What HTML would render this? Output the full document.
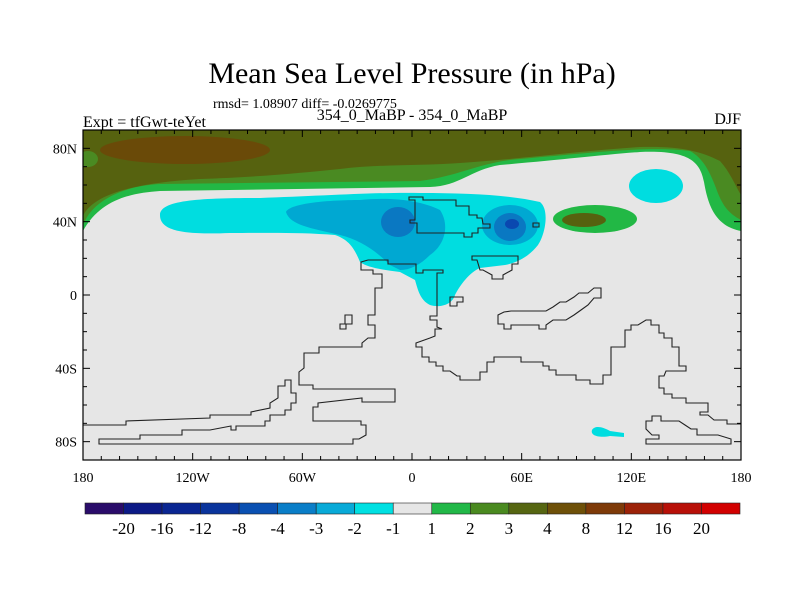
<!DOCTYPE html>
<html><head><meta charset="utf-8"><style>
html,body{margin:0;padding:0;background:#fff;}
svg{display:block;font-family:"Liberation Serif",serif;}
</style></head><body>
<svg id="chart" width="800" height="600" viewBox="0 0 800 600">
<text x="412" y="83" font-size="30" text-anchor="middle">Mean Sea Level Pressure (in hPa)</text>
<text x="213" y="108" font-size="14">rmsd= 1.08907 diff= -0.0269775</text>
<text x="412" y="120" font-size="16" text-anchor="middle">354_0_MaBP - 354_0_MaBP</text>
<text x="83" y="127" font-size="16">Expt = tfGwt-teYet</text>
<text x="741" y="124" font-size="16" text-anchor="end">DJF</text>
<defs><clipPath id="pc"><rect x="83" y="130" width="658" height="330"/></clipPath></defs>
<g clip-path="url(#pc)">
<rect x="83" y="130" width="658" height="330" fill="#e6e6e6"/>
<path fill="#22b845" d="M83,231 C100,200 130,193 160,191 L430,187 C460,186 470,170 500,165 C560,160 600,155 640,152 C690,150 700,162 704,182 C708,205 715,226 741,231 L741,130 L83,130 Z"/>
<path fill="#4a8a22" d="M83,226 C90,203 120,186 160,184 L420,181 C460,176 480,162 520,159 C600,152 650,146 690,151 C703,158 710,172 716,188 C722,205 728,213 741,220 L741,130 L83,130 Z"/>
<path fill="#56620f" d="M83,216 C92,196 130,183 200,179 C260,177 300,173 340,169 C380,164 420,166 460,163 C520,159 580,151 640,147 C680,146 700,151 720,161 C730,172 735,185 741,195 L741,130 L83,130 Z"/>
<ellipse cx="88" cy="159" rx="10" ry="8" fill="#4a8a22"/>
<ellipse cx="185" cy="150" rx="85" ry="14" fill="#6a4a08"/>
<path fill="#00dde0" d="M160,215 C160,200 200,198 260,198 C320,196 380,192 420,193 C470,193 510,195 540,202 C550,210 545,235 538,245 C530,255 520,262 505,265 L480,268 C470,272 460,285 455,295 C452,305 440,308 430,305 C420,300 418,290 415,280 L400,272 C385,270 368,268 360,262 C355,250 350,240 335,235 C300,232 260,233 230,233 C180,235 160,230 160,215 Z"/>
<path fill="#00a8d2" d="M286,212 C290,203 330,200 360,200 C390,197 420,200 440,210 C450,225 445,245 430,255 C420,265 410,270 400,270 L390,265 C375,250 360,240 340,235 C310,228 290,225 286,212 Z"/>
<ellipse cx="510" cy="225" rx="28" ry="20" fill="#00a8d2"/>
<ellipse cx="398" cy="222" rx="17" ry="15" fill="#0a78c2"/>
<ellipse cx="510" cy="227" rx="16" ry="14" fill="#0a78c2"/>
<ellipse cx="512" cy="224" rx="7" ry="5" fill="#0a48b0"/>
<ellipse cx="656" cy="186" rx="27" ry="17" fill="#00dde0"/>
<ellipse cx="595" cy="219" rx="42" ry="14" fill="#22b845"/>
<ellipse cx="584" cy="220" rx="22" ry="7" fill="#56620f"/>
<path fill="#00dde0" d="M592,430 C595,425 603,427 610,431 L624,433 L624,437 L610,436 C600,438 590,436 592,430 Z"/>
<g fill="none" stroke="#222" stroke-width="1.1">
<path d="M409,197 L423,197 L423,200 L456,200 L456,206 L469,206 L469,215 L477,215 L477,218 L482,218 L483,224 L490,224 L490,228 L478,228 L478,233 L472,233 L472,237 L464,237 L464,233 L417,233 L417,223 L410,223 L410,220 L415,220 L415,200 L409,200 Z M533,223 L539,223 L539,227 L533,227 Z"/>
<path d="M368,260 L388,260 L388,264 L416,264 L416,273 L423,273 L423,270 L443,270 L443,273 L437,273 L437,316 L430,316 L430,320 L437,320 L437,327 L442,329 L435,329 L435,336 L430,338 L416,343 L416,347 L422,347 L422,357 L429,357 L429,362 L436,362 L436,366 L443,366 L443,371 L450,371 L457,376 L460,376 L460,380 L480,380 L480,372 L487,372 L487,362 L494,362 L494,357 L521,357 L521,362 L543,362 L543,366 L549,366 L549,370 L556,370 L556,375 L576,375 L576,380 L590,380 L590,384 L603,384 L603,375 L611,375 L611,347 L625,347 L625,330 L631,330 L631,325 L638,325 L646,320 L651,320 L651,325 L659,325 L659,333 L664,333 L664,338 L672,338 L672,347 L679,347 L679,366 L686,366 L686,371 L666,371 L664,376 L659,376 L659,388 L664,388 L664,394 L672,394 L672,398 L686,398 L686,403 L708,403 L708,412 L700,412 L700,415 L708,415 L714,420 L727,420 L727,424 L741,424"/>
<path d="M368,260 L361,262 L361,270 L373,270 L373,274 L382,274 L382,288 L375,288 L375,315 L368,315 L368,325 L375,325 L375,338 L368,338 L362,343 L362,347 L319,347 L319,353 L304,353 L304,368 L299,372 L299,385 L313,385 L313,389 L395,389 L395,402 L362,402 L362,398 L318,403 L318,407 L313,407 L313,421 L361,421 L361,425 L366,425 L366,435 L359,439 L353,439 L353,444 L99,444 L99,439 L140,439 L140,435 L182,435 L182,430 L210,430 L231,426 L231,430 L236,430 L236,426 L265,426 L265,421 L270,421 L270,415 L285,415 L285,410 L291,410 L291,403 L296,403 L296,393 L291,393 L291,380 L285,380 L285,386 L278,386 L278,398 L270,403 L270,408 L251,412 L251,415 L210,415 L210,418 L126,421 L126,425 L83,425"/>
<path d="M340,329 L340,324 L345,324 L345,315 L352,315 L352,324 L346,324 L346,329 Z"/>
<path d="M472,256 L518,256 L518,264 L512,264 L512,270 L503,275 L503,279 L492,279 L492,275 L483,270 L480,270 L477,260 L472,260 Z"/>
<path d="M450,297 L463,297 L463,302 L457,302 L457,306 L450,306 Z"/>
<path d="M498,315 L498,324 L504,324 L504,329 L511,329 L511,325 L539,325 L539,329 L546,329 L546,325 L553,320 L566,320 L574,315 L581,310 L588,305 L594,298 L601,298 L601,288 L594,288 L588,293 L579,293 L574,297 L566,302 L560,302 L553,307 L546,311 L511,311 L504,312 Z"/>
<path d="M652,416 L661,416 L661,421 L679,421 L685,425 L691,429 L697,429 L697,435 L718,435 L731,439 L731,444 L646,444 L646,439 L659,439 L659,435 L652,435 L646,429 L646,421 L652,421 Z"/>
</g>
</g>
<g id="axes"></g>
<g id="cbar"></g>
<script>
const lonTicks = [-180, -120, -60, 0, 60, 120, 180];
const lonLabels = ["180", "120W", "60W", "0", "60E", "120E", "180"];
const latTicks = [80, 40, 0, -40, -80];
const latLabels = ["80N", "40N", "0", "40S", "80S"];
const levels = ["-20", "-16", "-12", "-8", "-4", "-3", "-2", "-1", "1", "2", "3", "4", "8", "12", "16", "20"];
const colors = ["#2a0c6a", "#0c1a86", "#0a2692", "#0a349c", "#0a50b2", "#0a7ec8", "#08aad8", "#00e0e2", "#e6e6e6", "#22b848", "#4a8a20", "#566612", "#6e5008", "#7e3a08", "#9c2208", "#b81008", "#d20000"];
const NS = "http://www.w3.org/2000/svg";
const X0 = 83, X1 = 741, Y0 = 130, Y1 = 460;
function xs(lon) { return X0 + (lon + 180) / 360 * (X1 - X0); }
function ys(lat) { return Y0 + (90 - lat) / 180 * (Y1 - Y0); }
function mk(tag, attrs, parent) { const e = document.createElementNS(NS, tag); for (const k in attrs) e.setAttribute(k, attrs[k]); parent.appendChild(e); return e; }
const ax = document.getElementById("axes");
const frame = mk("rect", {x: X0, y: Y0, width: X1 - X0, height: Y1 - Y0, fill: "none", stroke: "#000", "stroke-width": 1.2}, ax);


for (let lon = -180; lon <= 180; lon += 10) {
  const major = lon % 60 === 0; const L = major ? 7 : 4;
  const t1 = mk("line", {x1: xs(lon), x2: xs(lon), y1: Y1, y2: Y1 - L, stroke: "#000"}, ax);
  
  
  const t2 = mk("line", {x1: xs(lon), x2: xs(lon), y1: Y0, y2: Y0 + L, stroke: "#000"}, ax);
  
  
}
for (let lat = -90; lat <= 90; lat += 10) {
  const major = (lat % 40 === 0) && Math.abs(lat) <= 80; const L = major ? 7 : 4;
  const t1 = mk("line", {x1: X0, x2: X0 + L, y1: ys(lat), y2: ys(lat), stroke: "#000"}, ax);
  
  
  const t2 = mk("line", {x1: X1, x2: X1 - L, y1: ys(lat), y2: ys(lat), stroke: "#000"}, ax);
  
  
}
lonTicks.forEach((v, i) => {
  const t = mk("text", {x: xs(v), y: 482, "font-size": 14, "text-anchor": "middle"}, ax);
  t.textContent = lonLabels[i];
  
  
});
latTicks.forEach((v, i) => {
  const t = mk("text", {x: 77, y: ys(v) + 5, "font-size": 14, "text-anchor": "end"}, ax);
  t.textContent = latLabels[i];
  
  
});
const cb = document.getElementById("cbar");
const CX0 = 85, CX1 = 740, CY = 503, CH = 11;
const bw = (CX1 - CX0) / colors.length;
colors.forEach((c, i) => {
  const r = mk("rect", {x: CX0 + i * bw, y: CY, width: bw, height: CH, fill: c, stroke: "#222", "stroke-width": 0.6}, cb);
  
  
});
levels.forEach((l, i) => {
  const t = mk("text", {x: CX0 + (i + 1) * bw, y: 534, "font-size": 17, "text-anchor": "middle"}, cb);
  t.textContent = l;
  
  
});
</script>
</svg>
</body></html>
